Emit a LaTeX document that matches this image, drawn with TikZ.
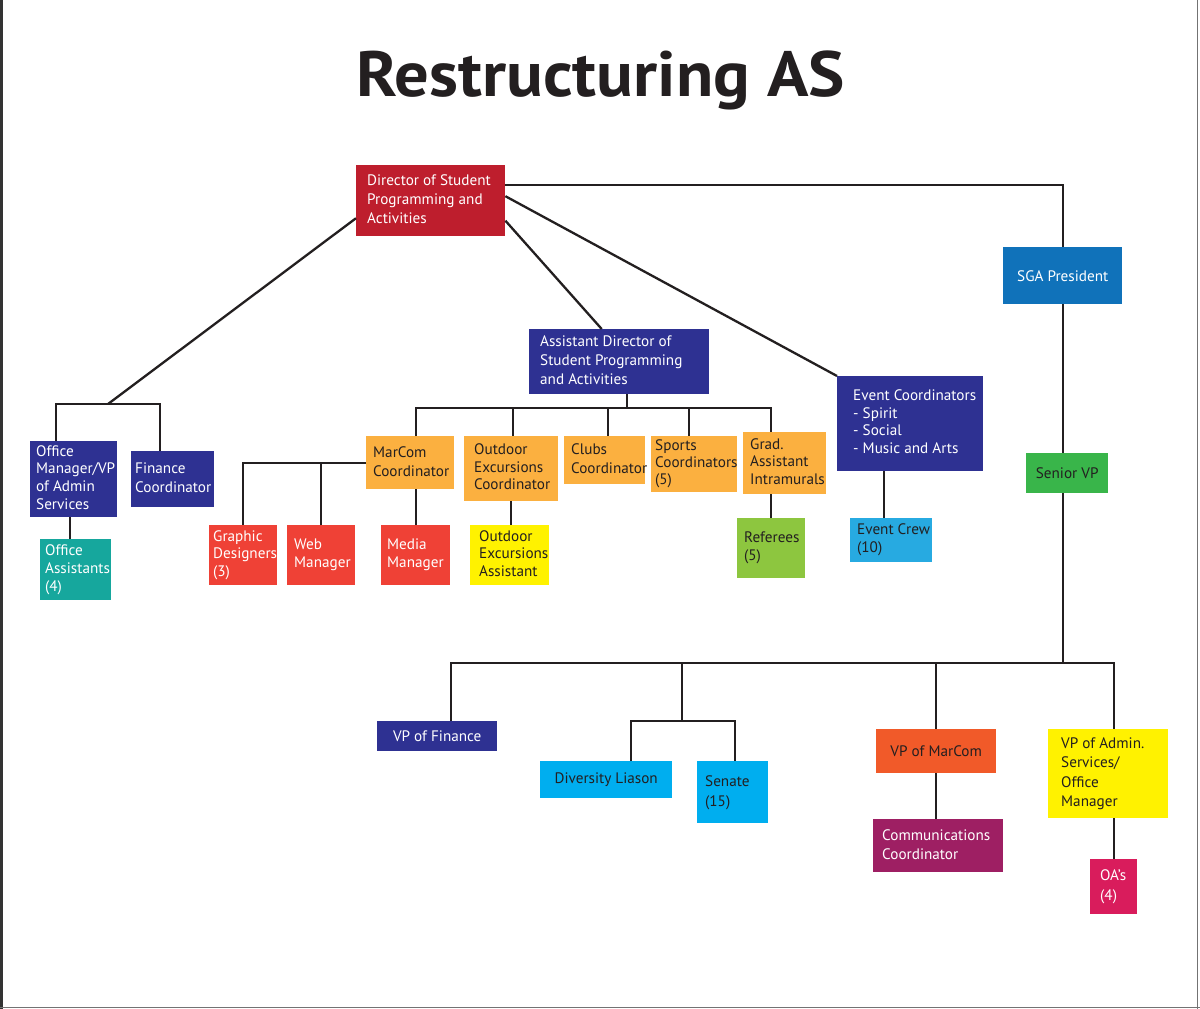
\documentclass[tikz,border=0pt]{standalone}
\usepackage{fontspec}
\setmainfont{PT Sans}
\definecolor{cDir}{HTML}{BE1E2D}
\definecolor{cNavy}{HTML}{2E3192}
\definecolor{cSGA}{HTML}{1072BA}
\definecolor{cTeal}{HTML}{16A79D}
\definecolor{cOrange}{HTML}{FBB040}
\definecolor{cRed}{HTML}{EF4136}
\definecolor{cYellow}{HTML}{FFF200}
\definecolor{cLime}{HTML}{8DC63F}
\definecolor{cSky}{HTML}{27AAE1}
\definecolor{cGreen}{HTML}{39B54A}
\definecolor{cCyan}{HTML}{00AEEF}
\definecolor{cVerm}{HTML}{F15A29}
\definecolor{cPurple}{HTML}{9E1F63}
\definecolor{cPink}{HTML}{D91C5C}
\definecolor{cInk}{HTML}{231F20}
\tikzset{
  orgbase/.style={anchor=north west, inner xsep=0pt, inner ysep=0pt,
    font=\fontsize{15.2}{19}\selectfont},
  light/.style={fill=#1, text=white},
  dark/.style={fill=#1, text=cInk},
  conn/.style={draw=cInk, line width=2.3pt},
}
% left-aligned box: name, x1, y1, x2, y2, left pad, style, lines
\newcommand\orgbox[8]{%
  \pgfmathsetmacro\obw{#4-#2}%
  \pgfmathsetmacro\obh{#5-#3}%
  \node[orgbase,#7,minimum width=\obw pt,minimum height=\obh pt] (#1) at (#2,#3)
    {\makebox[\obw pt][l]{\hspace*{#6pt}\begin{tabular}{@{}l@{}}#8\end{tabular}}};%
}
% centred box: name, x1, y1, x2, y2, style, text
\newcommand\orgboxc[7]{%
  \pgfmathsetmacro\obw{#4-#2}%
  \pgfmathsetmacro\obh{#5-#3}%
  \node[orgbase,#6,minimum width=\obw pt,minimum height=\obh pt] (#1) at (#2,#3) {#7};%
}
\begin{document}
\begin{tikzpicture}[x=1pt,y=-1pt]
\useasboundingbox (0,0) rectangle (1200,1009);
\fill[white] (0,0) rectangle (1200,1009);
% page edges
\draw[line width=2.5pt, black!80] (1.25,0) -- (1.25,1009);
\draw[line width=1.2pt, black!55] (0,1007.5) -- (1200,1007.5);
\draw[line width=1.2pt, black!55] (1197.5,0) -- (1197.5,1009);

\node[anchor=base, font=\fontsize{64}{70}\selectfont\bfseries, text=cInk] (title) at (601,96) {\scalebox{1.07}[1]{Restructuring AS}};

% boxes
\orgbox{dir}{356}{165}{505}{236}{11}{light=cDir}{Director of Student\\Programming and\\Activities}
\orgboxc{sga}{1003}{247}{1122}{304}{light=cSGA}{SGA President}
\orgbox{ad}{529}{329}{709}{394}{11}{light=cNavy}{Assistant Director of\\Student Programming\\and Activities}
\orgbox{ec}{837}{376}{983}{471}{16}{light=cNavy,font=\fontsize{15.2}{17.5}\selectfont}{Event Coordinators\\- Spirit\\- Social\\- Music and Arts}
\orgbox{om}{30}{441}{117}{517}{6}{light=cNavy,font=\fontsize{15.2}{17.7}\selectfont}{Office\\Manager/VP\\of Admin\\Services}
\orgbox{fin}{131}{451}{214}{507}{4}{light=cNavy}{Finance\\Coordinator}
\orgbox{oas}{40}{539}{111}{600}{5}{light=cTeal,font=\fontsize{15.2}{18}\selectfont}{Office\\Assistants\\(4)}
\orgbox{mc}{366}{436}{454}{489}{7}{dark=cOrange}{MarCom\\Coordinator}
\orgbox{oc}{464}{436}{558}{501}{10}{dark=cOrange,font=\fontsize{15.2}{17.5}\selectfont}{Outdoor\\Excursions\\Coordinator}
\orgbox{cl}{564}{436}{645}{484}{7}{dark=cOrange}{Clubs\\Coordinator}
\orgbox{sp}{651}{436}{737}{492}{4}{dark=cOrange,font=\fontsize{15.2}{17}\selectfont}{Sports\\Coordinators\\(5)}
\orgbox{gr}{743}{432}{826}{494}{7}{dark=cOrange,font=\fontsize{15.2}{17.5}\selectfont}{Grad.\\Assistant\\Intramurals}
\orgbox{gd}{209}{525}{277}{585}{4}{light=cRed,font=\fontsize{15.2}{17.5}\selectfont}{Graphic\\Designers\\(3)}
\orgbox{wm}{287}{525}{355}{585}{7}{light=cRed,font=\fontsize{15.2}{17.5}\selectfont}{Web\\Manager}
\orgbox{mm}{381}{525}{450}{585}{6}{light=cRed,font=\fontsize{15.2}{17.5}\selectfont}{Media\\Manager}
\orgbox{oea}{470}{525}{549}{585}{9}{dark=cYellow,font=\fontsize{15.2}{17.5}\selectfont}{Outdoor\\Excursions\\Assistant}
\orgbox{ref}{737}{518}{805}{578}{7}{dark=cLime,font=\fontsize{15.2}{18}\selectfont}{Referees\\(5)}
\orgbox{crew}{850}{518}{932}{562}{7}{dark=cSky,font=\fontsize{15.2}{18}\selectfont}{Event Crew\\(10)}
\orgboxc{svp}{1026}{453}{1108}{493}{dark=cGreen}{Senior VP}
\orgboxc{vpf}{377}{721}{497}{751}{light=cNavy}{VP of Finance}
\orgboxc{div}{540}{761}{672}{798}{dark=cCyan}{Diversity Liason}
\orgbox{sen}{697}{761}{768}{823}{8}{dark=cCyan,font=\fontsize{15.2}{20}\selectfont}{Senate\\(15)}
\orgboxc{vpm}{876}{729}{996}{773}{dark=cVerm}{VP of MarCom}
\orgbox{cc}{873}{819}{1003}{872}{9}{light=cPurple}{Communications\\Coordinator}
\orgbox{vpa}{1048}{729}{1168}{818}{13}{dark=cYellow,font=\fontsize{15.2}{19.5}\selectfont}{VP of Admin.\\Services/\\Office\\Manager}
\orgbox{oa}{1090}{859}{1137}{914}{10}{light=cPink,font=\fontsize{15.2}{19.5}\selectfont}{OA’s\\(4)}

% junction points
\coordinate (jTop) at (1062,185);
\coordinate (jLB) at (108,404);
\coordinate (omL) at (56,404);
\coordinate (omR) at (160,404);
\coordinate (jEC) at (884,0);
\coordinate (a0) at (627,408);
\coordinate (a1) at (416,408);
\coordinate (a2) at (513,408);
\coordinate (a3) at (608,408);
\coordinate (a4) at (689,408);
\coordinate (a5) at (771,408);
\coordinate (bL) at (451,663);
\coordinate (bM) at (682,663);
\coordinate (bR) at (1114,663);
\coordinate (dsL) at (631,721);
\coordinate (dsR) at (735,721);

% connectors from the director
\draw[conn] (dir.east |- jTop) -| (sga.north);
\draw[conn] ([yshift=-17.5pt]dir.west) -- (jLB);
\draw[conn] (om.north -| omL) -- (omL) -- (omR) -- (fin.north -| omR);
\draw[conn] ([xshift=-5.5pt]oas.north) -- ([xshift=-5.5pt]oas.north |- om.south);
\draw[conn] ([yshift=-20pt]dir.east) -- ([xshift=-17.5pt]ad.north);
\draw[conn] ([yshift=4.5pt]dir.east) -- (ec.north west);
\draw[conn] (crew.north -| jEC) -- (ec.south -| jEC);

% assistant director branch
\draw[conn] (ad.south -| a0) -- (a0);
\draw[conn] (mc.north -| a1) -- (a1) -- (a5) -- (gr.north -| a5);
\draw[conn] (a2) -- (oc.north -| a2);
\draw[conn] (a3) -- (cl.north -| a3);
\draw[conn] (a4) -- (sp.north -| a4);
\draw[conn] (mc.west) -| (gd.north);
\draw[conn] (wm.north) -- (wm.north |- mc.west);
\draw[conn] (mm.north) -- (mm.north |- mc.south);
\draw[conn] (oc.south) -- (oc.south |- oea.north);
\draw[conn] (ref.north) -- (ref.north |- gr.south);

% SGA branch
\draw[conn] (sga.south) -- (sga.south |- svp.north);
\draw[conn] (sga.south |- svp.south) -- (sga.south |- bR);
\draw[conn] (vpf.north -| bL) -- (bL) -- (bR) -- (vpa.north -| bR);
\draw[conn] (bM) -- (bM |- dsL);
\draw[conn] (div.north -| dsL) -- (dsL) -- (dsR) -- (sen.north -| dsR);
\draw[conn] (vpm.north |- bL) -- (vpm.north);
\draw[conn] (vpm.south) -- (vpm.south |- cc.north);
\draw[conn] (oa.north |- vpa.south) -- (oa.north);
\end{tikzpicture}
\end{document}
